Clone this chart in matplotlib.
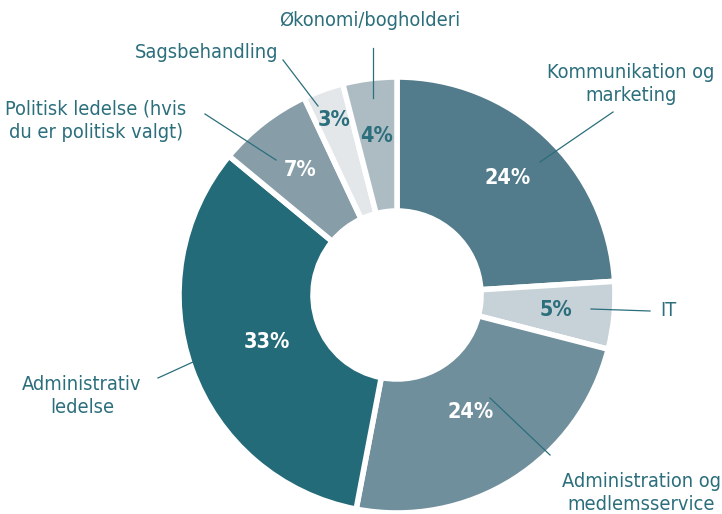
import matplotlib.pyplot as plt
import numpy as np

# data, clockwise from 12 o'clock
categories = ["Kommunikation og\nmarketing", "IT", "Administration og\nmedlemsservice",
              "Administrativ\nledelse", "Politisk ledelse (hvis\ndu er politisk valgt)",
              "Sagsbehandling", "Økonomi/bogholderi"]
values = [24, 5, 24, 33, 7, 3, 4]
pct_labels = ["24%", "5%", "24%", "33%", "7%", "3%", "4%"]

colors = ["#527b8b", "#c7d2d8", "#708f9c", "#246b79", "#879ea8", "#e3e7ea", "#adbcc3"]
pct_colors = ["white", "#2b6e7c", "white", "white", "white", "#2b6e7c", "#2b6e7c"]
pct_radius = [161, 160, 138, 138, 158, 186, 160]
txt_color = "#2b6e7c"

W, H = 722, 514
fig = plt.figure(figsize=(W / 100, H / 100), dpi=100)
ax = fig.add_axes([0, 0, 1, 1])

cx, cy = 397, H - 295
R, r_in = 218, 84

def py(y):
    return H - y

wedges, _ = ax.pie(values, colors=colors, startangle=90, counterclock=False,
                   center=(cx, cy), radius=R, frame=True,
                   wedgeprops=dict(width=R - r_in, edgecolor="white", linewidth=4))
ax.set_xlim(0, W)
ax.set_ylim(0, H)
ax.set_aspect("equal")
ax.axis("off")

font = "DejaVu Sans"

for w, lab, col, rr in zip(wedges, pct_labels, pct_colors, pct_radius):
    mid = np.deg2rad((w.theta1 + w.theta2) / 2)
    ax.text(cx + rr * np.cos(mid), cy + rr * np.sin(mid), lab, color=col,
            fontsize=15.5, fontweight="bold", ha="center", va="center",
            family=font, stretch="condensed")

# outer labels: (text pos, line start, line end) in pixels
outer = [
    ((631, 84), (613, 112), (540, 162)),
    ((668, 310), (650, 311), (591, 309)),
    ((641, 493), (550, 455), (490, 398)),
    ((82, 396), (158, 378), (193, 362)),
    ((96, 121), (205, 114), (276, 160)),
    ((207, 52), (283, 60), (318, 106)),
    ((370, 20), (373, 48), (373, 98)),
]
for name, (tp, p0, p1) in zip(categories, outer):
    ax.text(tp[0], py(tp[1]), name, color=txt_color, fontsize=14.3, ha="center",
            va="center", linespacing=1.3, family=font, stretch="condensed")
    ax.plot([p0[0], p1[0]], [py(p0[1]), py(p1[1])], color=txt_color, lw=0.9)

fig.savefig("out.png", dpi=100)
